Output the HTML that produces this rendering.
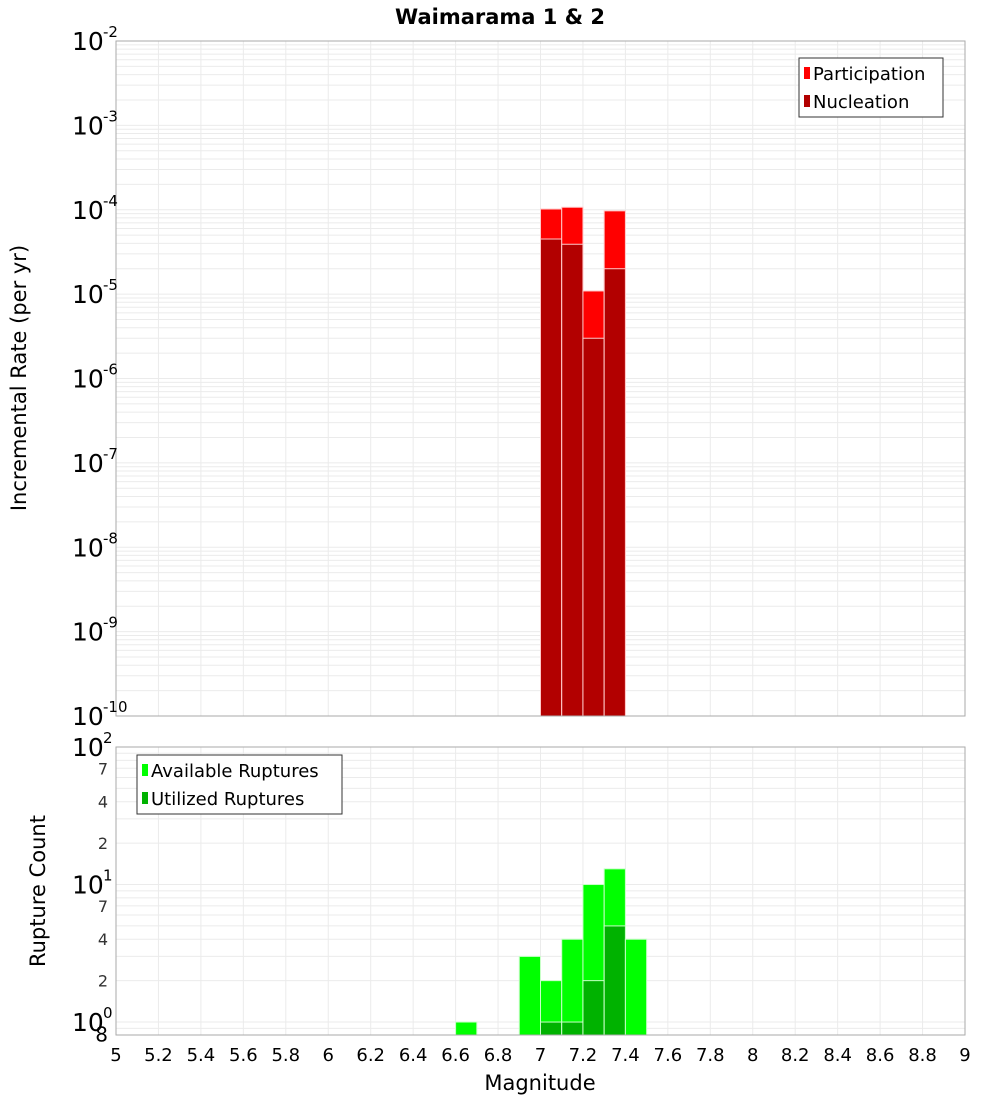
<!DOCTYPE html>
<html><head><meta charset="utf-8"><style>
body{margin:0;background:#fff;}
svg{display:block;font-family:"DejaVu Sans","Liberation Sans",sans-serif;}
</style></head><body>
<svg id="c" width="1000" height="1100" xmlns="http://www.w3.org/2000/svg">
<text x="500" y="24" text-anchor="middle" font-size="21" font-weight="bold">Waimarama 1 &amp; 2</text>
<text transform="translate(26,378) rotate(-90)" text-anchor="middle" font-size="21">Incremental Rate (per yr)</text>
<text transform="translate(45,891) rotate(-90)" text-anchor="middle" font-size="21">Rupture Count</text>
<text x="540" y="1090" text-anchor="middle" font-size="21">Magnitude</text>
<g id="g"></g>
</svg>
<script>
// data
const magBins = [7.05, 7.15, 7.25, 7.35];
const participation = [1.02e-4, 1.07e-4, 1.09e-5, 9.7e-5];
const nucleation = [4.5e-5, 3.9e-5, 3.0e-6, 2.0e-5];
const countBins = [6.65, 6.95, 7.05, 7.15, 7.25, 7.35, 7.45];
const available = [1, 3, 2, 4, 10, 13, 4];
const utilized = [0, 0, 1, 1, 2, 5, 0];
const xTicks = ["5","5.2","5.4","5.6","5.8","6","6.2","6.4","6.6","6.8","7","7.2","7.4","7.6","7.8","8","8.2","8.4","8.6","8.8","9"];
const topExps = [-2,-3,-4,-5,-6,-7,-8,-9,-10];

const NS="http://www.w3.org/2000/svg";
const g=document.getElementById('g');
function el(t,a,txt){const e=document.createElementNS(NS,t);for(const k in a)e.setAttribute(k,a[k]);if(txt!==undefined)e.textContent=txt;g.appendChild(e);return e;}
const L=116,R=965;
const x=m=>L+(m-5)/4*(R-L);
const T0=41,T1=716;
const yT=v=>T0+(-2-Math.log10(v))*(T1-T0)/8;
const B0=747,B1=1035,Bmin=Math.log10(0.805);
const yB=v=>B1-(Math.log10(v)-Bmin)/(2-Bmin)*(B1-B0);

// grids
for(let i=0;i<xTicks.length;i++){const xv=x(parseFloat(xTicks[i]));
 let e=el('line',{x1:xv,x2:xv,y1:T0,y2:T1,stroke:'#ebebeb'});
 e=el('line',{x1:xv,x2:xv,y1:B0,y2:B1,stroke:'#ebebeb'});}
for(let d=-10;d<-2;d++)for(let k=1;k<10;k++){const yv=yT(k*Math.pow(10,d));
 const e=el('line',{x1:L,x2:R,y1:yv,y2:yv,stroke:'#ebebeb'});}
for(let d=-1;d<2;d++)for(let k=1;k<10;k++){const v=k*Math.pow(10,d);if(v<0.805)continue;const yv=yB(v);
 const e=el('line',{x1:L,x2:R,y1:yv,y2:yv,stroke:'#ebebeb'});}

// top bars
const w=x(5.1)-x(5);
for(let i=0;i<magBins.length;i++){const x0=x(magBins[i]-0.05);
 let e=el('rect',{x:x0,y:yT(participation[i]),width:w,height:T1-yT(participation[i]),fill:'#ff0000',stroke:'#ffc8c8','stroke-width':1});
 
 e=el('rect',{x:x0,y:yT(nucleation[i]),width:w,height:T1-yT(nucleation[i]),fill:'#b20000',stroke:'#ffc8c8','stroke-width':1});
 }
// bottom bars
for(let i=0;i<countBins.length;i++){const x0=x(countBins[i]-0.05);
 let e=el('rect',{x:x0,y:yB(available[i]),width:w,height:B1-yB(available[i]),fill:'#00ff00',stroke:'#c8ffc8','stroke-width':1});
 
 if(utilized[i]>0){e=el('rect',{x:x0,y:yB(utilized[i]),width:w,height:B1-yB(utilized[i]),fill:'#00b200',stroke:'#c8ffc8','stroke-width':1});
 }}

// frames
let f=el('rect',{x:L,y:T0,width:R-L,height:T1-T0,fill:'none',stroke:'#aaa'});
f=el('rect',{x:L,y:B0,width:R-L,height:B1-B0,fill:'none',stroke:'#aaa'});

// x tick labels
for(const t of xTicks){const e=el('text',{x:x(parseFloat(t)),y:1061,'text-anchor':'middle','font-size':18},t);
 }
// top y labels
for(const d of topExps){const yv=yT(Math.pow(10,d));
 const e=el('text',{x:72,y:yv+9,'font-size':25},'10');
 const s=el('text',{x:103,y:yv-4,'font-size':15},String(d));}
// bottom y labels
const bMaj=[[2,'2'],[1,'1'],[0,'0']];
for(const [d,s] of bMaj){const yv=yB(Math.pow(10,d));
 let e=el('text',{x:72,y:yv+9,'font-size':25},'10');
 e=el('text',{x:103,y:yv-4,'font-size':15},s);}
const bMin=[[70,'7'],[40,'4'],[20,'2'],[7,'7'],[4,'4'],[2,'2'],[0.8,'8']];
for(const [v,s] of bMin){const e=el('text',{x:108,y:yB(v)+6,'font-size':v===0.8?20:16,'text-anchor':'end',fill:v===0.8?'#000':'#333'},s);
 }

// legends
function legend(bx,by,bw,items,name){const r=el('rect',{x:bx,y:by,width:bw,height:59,fill:'#fff',stroke:'#333'});
 
 items.forEach((it,i)=>{const yy=by+15+i*28;
  const s=el('rect',{x:bx+5,y:yy-6,width:6,height:12,fill:it[1]});
  const t=el('text',{x:bx+14,y:yy+7,'font-size':18},it[0]);});}
legend(799,58,144,[['Participation','#ff0000'],['Nucleation','#b20000']],'top-legend');
legend(137,755,205,[['Available Ruptures','#00ff00'],['Utilized Ruptures','#00b200']],'bottom-legend');
</script>
</body></html>
